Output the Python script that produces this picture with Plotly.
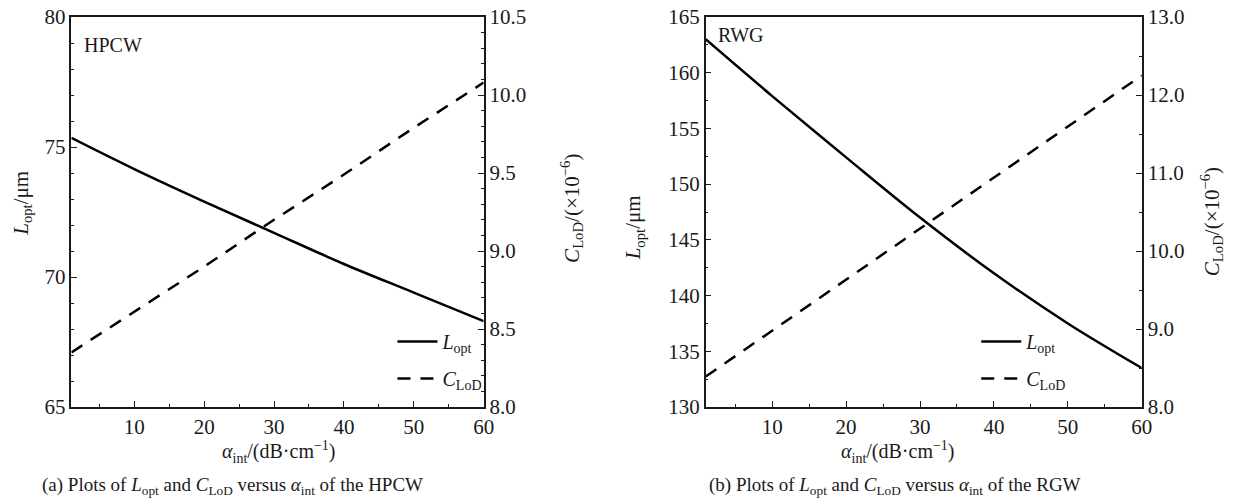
import plotly.graph_objects as go

# ---------------- data ----------------
alpha = [1, 10, 20, 30, 40, 50, 60]

hpcw_L = [75.35, 74.15, 72.9, 71.7, 70.5, 69.4, 68.3]
hpcw_C = [8.35, 8.61, 8.90, 9.20, 9.49, 9.79, 10.08]

rwg_L = [163.0, 157.9, 152.4, 147.0, 142.0, 137.5, 133.5]
rwg_C = [8.39, 8.98, 9.63, 10.29, 10.94, 11.60, 12.25]

x_ticks = [10, 20, 30, 40, 50, 60]

W, H = 1238, 503
FONT = "Liberation Serif, Times New Roman, DejaVu Serif, serif"
FS_TICK = 21
FS_TITLE = 21
FS_CAP = 19
INK = "#1a1a1a"

L_name = "<i>L</i><sub>opt</sub>"
C_name = "<i>C</i><sub>LoD</sub>"

fig = go.Figure()

# left panel
fig.add_trace(go.Scatter(x=alpha, y=hpcw_L, mode="lines", name=L_name,
                         line=dict(color="black", width=2.5, shape="spline"),
                         xaxis="x", yaxis="y", legend="legend", legendgroup="a1"))
fig.add_trace(go.Scatter(x=alpha, y=hpcw_C, mode="lines", name=C_name,
                         line=dict(color="black", width=2.5, dash="13px,10px"),
                         xaxis="x", yaxis="y2", legend="legend", legendgroup="a2"))
# right panel
fig.add_trace(go.Scatter(x=alpha, y=rwg_L, mode="lines", name=L_name,
                         line=dict(color="black", width=2.5, shape="spline"),
                         xaxis="x2", yaxis="y3", legend="legend2", legendgroup="b1"))
fig.add_trace(go.Scatter(x=alpha, y=rwg_C, mode="lines", name=C_name,
                         line=dict(color="black", width=2.5, dash="13px,10px"),
                         xaxis="x2", yaxis="y4", legend="legend2", legendgroup="b2"))

dom_a = [72 / W, 488 / W]
dom_b = [712 / W, 1152 / W]

tickfont = dict(family=FONT, size=FS_TICK, color=INK)

def xax(domain, anchor):
    return dict(domain=domain, anchor=anchor, range=[1, 60], tickmode="array",
                tickvals=x_ticks, ticks="inside", ticklen=6, tickwidth=1.3,
                tickcolor=INK, showline=True, linecolor=INK, linewidth=1.5,
                mirror=True, showgrid=False, zeroline=False, tickfont=tickfont,
                minor=dict(dtick=5, tick0=0, ticks="inside", ticklen=3,
                           tickcolor=INK, tickwidth=1.2, showgrid=False))

def yax(rng, dtick, mdtick, anchor, side="left", overlaying=None, fmt=None):
    d = dict(range=rng, dtick=dtick, tick0=rng[0], ticks="inside", ticklen=6,
             tickwidth=1.3, tickcolor=INK, showline=True, linecolor=INK,
             linewidth=1.5, showgrid=False, zeroline=False, tickfont=tickfont,
             anchor=anchor, side=side,
             minor=dict(dtick=mdtick, tick0=rng[0], ticks="inside", ticklen=3,
                        tickcolor=INK, tickwidth=1.2, showgrid=False))
    if overlaying:
        d["overlaying"] = overlaying
    if fmt:
        d["tickformat"] = fmt
    return d

legend_common = dict(font=dict(family=FONT, size=20, color=INK),
                     bgcolor="rgba(0,0,0,0)", tracegroupgap=8,
                     xanchor="left", yanchor="top", itemwidth=40)

fig.update_layout(
    width=W, height=H,
    margin=dict(l=0, r=0, t=17, b=96),
    paper_bgcolor="white", plot_bgcolor="white",
    showlegend=True,
    xaxis=xax(dom_a, "y"),
    xaxis2=xax(dom_b, "y3"),
    yaxis=yax([65, 80], 5, 1, "x"),
    yaxis2=yax([8.0, 10.5], 0.5, 0.1, "x", side="right", overlaying="y", fmt=".1f"),
    yaxis3=yax([130, 165], 5, 2.5, "x2"),
    yaxis4=yax([8.0, 13.0], 1.0, 0.5, "x2", side="right", overlaying="y3", fmt=".1f"),
    legend=dict(x=396 / W, y=0.218, **legend_common),
    legend2=dict(x=985 / W, y=0.218, **legend_common),
)

def py(ypx):
    # convert pixel y to paper fraction (plot area 17..407)
    return (407 - ypx) / 390

def font(sz):
    return dict(family=FONT, size=sz, color=INK)

annotations = [
    dict(text="HPCW", x=83 / W, y=py(45), xanchor="left", yanchor="middle", font=font(20)),
    dict(text="RWG", x=722 / W, y=py(35), xanchor="left", yanchor="middle", font=font(20)),
    dict(text="<i>α</i><sub>int</sub>/(dB·cm<sup>−1</sup>)", x=281 / W, y=py(452),
         xanchor="center", yanchor="middle", font=font(20)),
    dict(text="<i>α</i><sub>int</sub>/(dB·cm<sup>−1</sup>)", x=906 / W, y=py(452),
         xanchor="center", yanchor="middle", font=font(20)),
    dict(text="(a) Plots of <i>L</i><sub>opt</sub> and <i>C</i><sub>LoD</sub> versus <i>α</i><sub>int</sub> of the HPCW",
         x=235 / W, y=py(486), xanchor="center", yanchor="middle", font=font(FS_CAP)),
    dict(text="(b) Plots of <i>L</i><sub>opt</sub> and <i>C</i><sub>LoD</sub> versus <i>α</i><sub>int</sub> of the RGW",
         x=903 / W, y=py(486), xanchor="center", yanchor="middle", font=font(FS_CAP)),
    dict(text="<i>L</i><sub>opt</sub>/μm", x=22 / W, y=py(203), textangle=-90,
         xanchor="center", yanchor="middle", font=font(FS_TITLE)),
    dict(text="<i>C</i><sub>LoD</sub>/(×10<sup>−6</sup>)", x=576 / W, y=py(208), textangle=-90,
         xanchor="center", yanchor="middle", font=font(FS_TITLE)),
    dict(text="<i>L</i><sub>opt</sub>/μm", x=640 / W, y=py(228), textangle=-90,
         xanchor="center", yanchor="middle", font=font(FS_TITLE)),
    dict(text="<i>C</i><sub>LoD</sub>/(×10<sup>−6</sup>)", x=1222 / W, y=py(222), textangle=-90,
         xanchor="center", yanchor="middle", font=font(FS_TITLE)),
]
for a in annotations:
    a.update(xref="paper", yref="paper", showarrow=False)
fig.update_layout(annotations=annotations)

fig.write_html("out.html",
               config={"displayModeBar": False},
               post_script="document.body.style.margin='0';document.body.style.overflow='hidden';")
